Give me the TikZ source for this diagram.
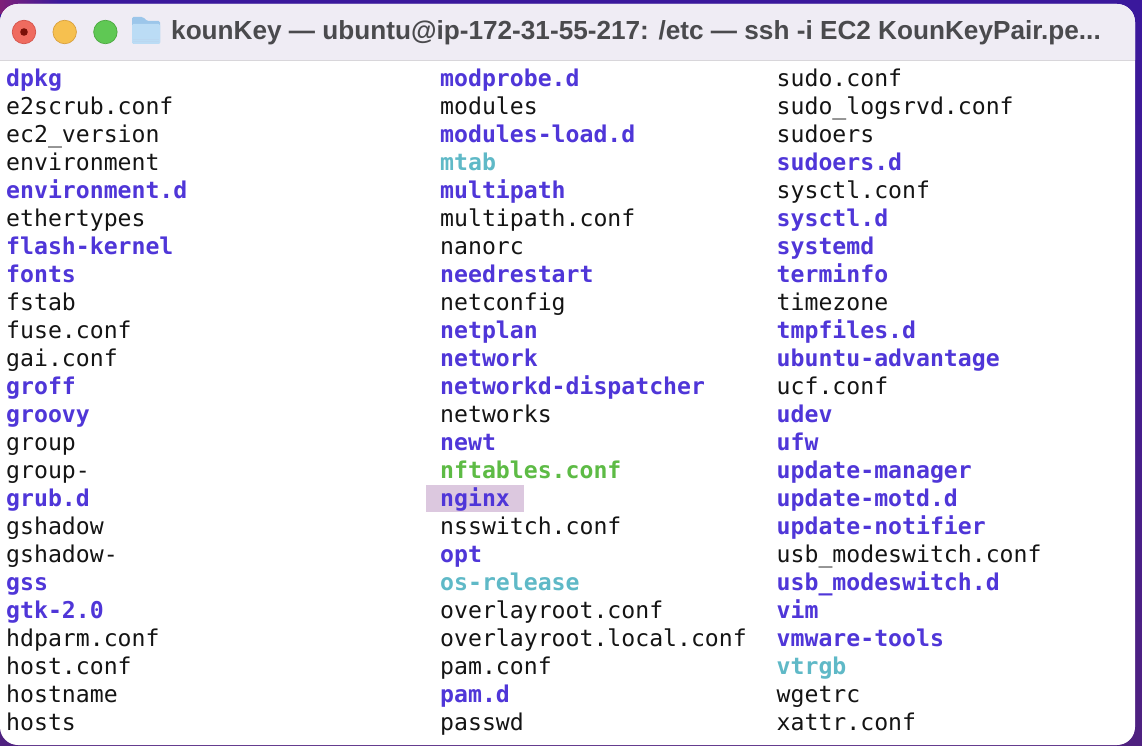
\documentclass[tikz,border=0pt]{standalone}
\usepackage{fontspec}
\setmainfont{Liberation Sans}
\newfontfamily\termfont{DejaVu Sans Mono}
\usetikzlibrary{positioning}

\definecolor{deskblue}{HTML}{3A189C}
\definecolor{deskpink}{HTML}{7E2078}
\definecolor{deskplum}{HTML}{4F2180}
\definecolor{barfill}{HTML}{EFECF4}
\definecolor{barline}{HTML}{D8D6DA}
\definecolor{titlegray}{HTML}{4A4A4D}
\definecolor{dirblue}{HTML}{4F36D8}
\definecolor{linkcyan}{HTML}{5FB9C7}
\definecolor{exegreen}{HTML}{5DBB45}
\definecolor{hilite}{HTML}{DCC8DF}
\definecolor{folderlight}{HTML}{BBDCF5}
\definecolor{foldertab}{HTML}{9CC6EA}
\definecolor{closefill}{HTML}{EF6B5F}
\definecolor{closeedge}{HTML}{D4534A}
\definecolor{closedot}{HTML}{7A1008}
\definecolor{minfill}{HTML}{F6C04F}
\definecolor{minedge}{HTML}{D9A03C}
\definecolor{zoomfill}{HTML}{5FC854}
\definecolor{zoomedge}{HTML}{4BA83F}

\tikzset{
  entry/.style={anchor=base west, inner sep=0pt, font=\termfont\fontsize{23.15}{23}\selectfont, text=black!92},
  plainent/.style={entry},
  dirent/.style={entry, font=\termfont\bfseries\fontsize{23.15}{23}\selectfont, text=dirblue},
  linkent/.style={entry, font=\termfont\bfseries\fontsize{23.15}{23}\selectfont, text=linkcyan},
  exeent/.style={entry, font=\termfont\bfseries\fontsize{23.15}{23}\selectfont, text=exegreen},
  winbutton/.style={circle, inner sep=0pt, minimum size=23.5pt, line width=0.7pt}
}

\begin{document}
\begin{tikzpicture}[x=1pt, y=-1pt]
    \useasboundingbox (0,0) rectangle (1142,746);

    % Desktop behind the window
    \shade[top color=deskblue, bottom color=deskplum] (0,0) rectangle (1142,746);
    \shade[left color=deskpink, right color=deskblue] (0,0) rectangle (60,14);

    % Window
    \fill[white, rounded corners=18pt] (0,4) rectangle (1135,745);
    \fill[barfill] (0,60) {[rounded corners=18pt] -- (0,4) -- (1135,4)} -- (1135,60) -- cycle;
    \draw[barline, line width=1pt] (0,60.5) -- (1135,60.5);

    % Title bar
    \node[winbutton, fill=closefill, draw=closeedge] (closebtn) at (24,32) {};
    \fill[closedot] (closebtn) circle (3.8);
    \node[winbutton, fill=minfill, draw=minedge, right=16.5pt of closebtn] (minbtn) {};
    \node[winbutton, fill=zoomfill, draw=zoomedge, right=16.5pt of minbtn] (zoombtn) {};

    % Folder icon
    \fill[foldertab, rounded corners=1.5pt] (132,44) -- (132,17) -- (143,17) -- (147,21) -- (160,21) -- (160,44) -- cycle;
    \fill[folderlight, rounded corners=1.5pt] (132,24) rectangle (160,44);
    \draw[foldertab!70!white, line width=0.6pt] (133,39.5) -- (159,39.5) (133,41.5) -- (159,41.5);

    \node[anchor=base west, inner sep=0pt, text=titlegray, font=\bfseries\fontsize{26.17}{26}\selectfont] (wintitle) at (171,39.5) {kounKey — ubuntu@ip-172-31-55-217: /etc — ssh -i EC2 KounKeyPair.pe...};

    % Selected row
    \fill[hilite] (426,485) rectangle (524,512);

    % First column
    \foreach \fname/\kind [count=\i from 0] in {dpkg/dirent, e2scrub.conf/plainent, ec2\_version/plainent, environment/plainent, environment.d/dirent, ethertypes/plainent, flash-kernel/dirent, fonts/dirent, fstab/plainent, fuse.conf/plainent, gai.conf/plainent, groff/dirent, groovy/dirent, group/plainent, group-/plainent, grub.d/dirent, gshadow/plainent, gshadow-/plainent, gss/dirent, gtk-2.0/dirent, hdparm.conf/plainent, host.conf/plainent, hostname/plainent, hosts/plainent}
        \node[\kind] (a\i) at (6,86.7+28*\i) {\fname};

    % Second column
    \foreach \fname/\kind [count=\i from 0] in {modprobe.d/dirent, modules/plainent, modules-load.d/dirent, mtab/linkent, multipath/dirent, multipath.conf/plainent, nanorc/plainent, needrestart/dirent, netconfig/plainent, netplan/dirent, network/dirent, networkd-dispatcher/dirent, networks/plainent, newt/dirent, nftables.conf/exeent, nginx/dirent, nsswitch.conf/plainent, opt/dirent, os-release/linkent, overlayroot.conf/plainent, overlayroot.local.conf/plainent, pam.conf/plainent, pam.d/dirent, passwd/plainent}
        \node[\kind] (b\i) at (440,86.7+28*\i) {\fname};

    % Third column
    \foreach \fname/\kind [count=\i from 0] in {sudo.conf/plainent, sudo\_logsrvd.conf/plainent, sudoers/plainent, sudoers.d/dirent, sysctl.conf/plainent, sysctl.d/dirent, systemd/dirent, terminfo/dirent, timezone/plainent, tmpfiles.d/dirent, ubuntu-advantage/dirent, ucf.conf/plainent, udev/dirent, ufw/dirent, update-manager/dirent, update-motd.d/dirent, update-notifier/dirent, usb\_modeswitch.conf/plainent, usb\_modeswitch.d/dirent, vim/dirent, vmware-tools/dirent, vtrgb/linkent, wgetrc/plainent, xattr.conf/plainent}
        \node[\kind] (c\i) at (776.5,86.7+28*\i) {\fname};
\end{tikzpicture}
\end{document}
